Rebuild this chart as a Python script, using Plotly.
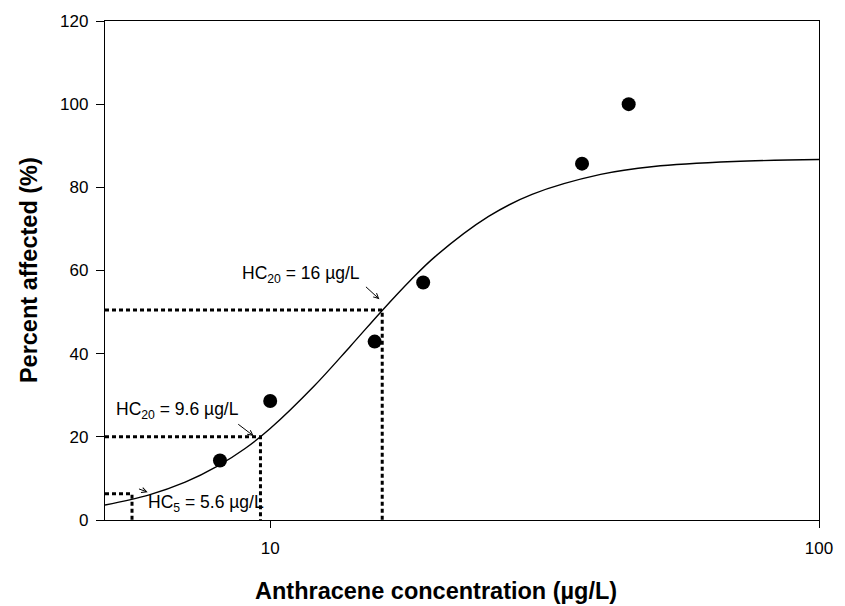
import math
import plotly.graph_objects as go

# Observed toxicity data
conc = [8.1, 10, 15.5, 19, 37, 45]          # µg/L
pct_affected = [14.3, 28.6, 42.9, 57.1, 85.7, 100]  # %

# Fitted species-sensitivity curve, sampled
curve_x = [5, 6, 7, 8, 9, 10, 12, 14, 16, 18, 20, 25, 30, 40, 50, 70, 100]
curve_y = [3.6, 6.0, 9.1, 12.9, 17.2, 22.0, 32.1, 41.8, 50.4, 57.6, 63.4, 73.0, 78.3, 83.1, 85.0, 86.2, 86.7]

# Hazard concentrations: (concentration, percent level, label)
hc_conc = [5.6, 9.6, 16]
hc_level = [6.3, 20, 50.5]
hc_labels = ["HC<sub>5</sub> = 5.6 µg/L", "HC<sub>20</sub> = 9.6 µg/L", "HC<sub>20</sub> = 16 µg/L"]

x_min, x_max = 5, 100
y_ticks = [0, 20, 40, 60, 80, 100, 120]
x_ticks = [10, 100]

FONT = "Liberation Sans, Arial, sans-serif"
DOT = "4px,3px"

fig = go.Figure()

# Dotted guide lines for each hazard concentration
for c, lvl in zip(hc_conc, hc_level):
    fig.add_trace(go.Scatter(
        x=[x_min, c, c], y=[lvl, lvl, 0], mode="lines",
        line=dict(color="black", width=3, dash=DOT),
        hoverinfo="skip", showlegend=False))

fig.add_trace(go.Scatter(
    x=curve_x, y=curve_y, mode="lines", line_shape="spline",
    line=dict(color="black", width=1.4), showlegend=False))

fig.add_trace(go.Scatter(
    x=conc, y=pct_affected, mode="markers",
    marker=dict(color="black", size=14), showlegend=False))

lx = math.log10
# label positions (concentration, percent) and arrow tail/tip
label_pos = [(7.64, 4.0), (6.77, 26.4), (11.39, 59.0)]
arrow_tail = [(5.73, 7.6), (8.69, 23.3), (14.85, 56.4)]
arrow_tip = [(5.98, 6.7), (9.33, 20.2), (15.81, 53.1)]

for (px, py), txt in zip(label_pos, hc_labels):
    fig.add_annotation(x=lx(px), y=py, xref="x", yref="y", text=txt,
                       showarrow=False, xanchor="center", yanchor="middle",
                       font=dict(family=FONT, size=17.5, color="black"))

for (tx, ty), (hx, hy) in zip(arrow_tail, arrow_tip):
    fig.add_annotation(x=lx(hx), y=hy, ax=lx(tx), ay=ty,
                       xref="x", yref="y", axref="x", ayref="y",
                       text="", showarrow=True, arrowhead=5, arrowsize=1,
                       arrowwidth=1, arrowcolor="black", standoff=0)

# Axis titles
fig.add_annotation(x=0.463, y=-0.143, xref="paper", yref="paper",
                   text="<b>Anthracene concentration (µg/L)</b>", showarrow=False,
                   xanchor="center", yanchor="middle",
                   font=dict(family=FONT, size=23.5, color="black"))
fig.add_annotation(x=-0.107, y=0.5, xref="paper", yref="paper",
                   text="<b>Percent affected (%)</b>", showarrow=False, textangle=-90,
                   xanchor="center", yanchor="middle",
                   font=dict(family=FONT, size=23.5, color="black"))

fig.update_xaxes(type="log", range=[lx(x_min), lx(x_max)],
                 tickvals=x_ticks, ticktext=[str(v) for v in x_ticks],
                 ticks="outside", ticklen=7, tickwidth=1.3, tickcolor="black",
                 ticklabelstandoff=5, ticklabeloverflow="allow",
                 showline=True, linewidth=1.3, linecolor="black", mirror=True,
                 showgrid=False, zeroline=False,
                 tickfont=dict(family=FONT, size=17, color="black"))
fig.update_yaxes(range=[0, 120], tickvals=y_ticks,
                 ticks="outside", ticklen=8, tickwidth=1.3, tickcolor="black",
                 ticklabelstandoff=4,
                 showline=True, linewidth=1.3, linecolor="black", mirror=True,
                 showgrid=False, zeroline=False,
                 tickfont=dict(family=FONT, size=17, color="black"))

fig.update_layout(width=845, height=606,
                  margin=dict(l=105, r=19, t=16, b=86),
                  plot_bgcolor="white", paper_bgcolor="white")

fig.write_html("out.html")
